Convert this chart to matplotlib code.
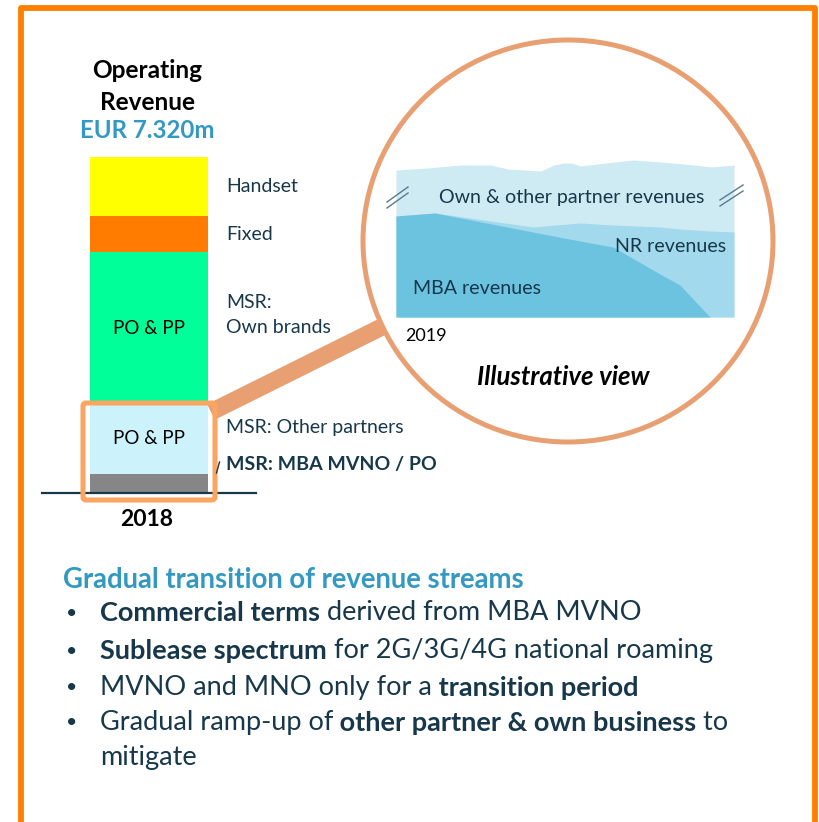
import numpy as np
import matplotlib.pyplot as plt
from matplotlib.patches import Ellipse, FancyBboxPatch

plt.rcParams['font.family'] = ['Lato', 'DejaVu Sans']

W, H = 819, 822
DARK = '#17384a'
TEAL = '#3399c2'
ORANGE = '#ff7f00'
SALMON = '#e8a072'

# 2018 operating revenue split (EUR m)
segments = ['MSR: MBA MVNO / PO', 'MSR: Other partners', 'MSR: Own brands', 'Fixed', 'Handset']
values = [414, 1525, 3311, 784, 1286]
seg_colors = ['#868686', '#ccf2fb', '#00ff99', '#ff7c00', '#ffff00']
seg_inner = ['', 'PO & PP', 'PO & PP', '', '']

# illustrative 2019 view (stacked area, arbitrary units)
mba_x = [0, 11.5, 40.5, 54.4, 64.2, 78.1, 84.0, 92.9, 100]
mba_y = [101, 104, 85, 76, 70, 43, 32, 0, 0]
nr_x = [0, 11.5, 40.5, 54.4, 64.2, 78.1, 84.0, 92.9, 100]
nr_top = [101, 104, 90, 94, 92, 90, 88, 86, 85]
own_x = [0, 9.2, 19.2, 28.1, 33.1, 42.9, 46.7, 49.7, 51.8, 54.7, 64.5, 70.4, 78.4, 88.2, 93.2, 100]
own_top = [147, 149, 152, 152, 148, 146, 152, 154, 154, 151, 155, 157, 155, 152, 150, 152]

bullets = [
    [("Commercial terms", True), (" derived from MBA MVNO", False)],
    [("Sublease spectrum", True), (" for 2G/3G/4G national roaming", False)],
    [("MVNO and MNO only for a", False), (" transition period", True)],
    [("Gradual ramp-up of", False), (" other partner & own business", True), (" to", False)],
]


def px_axes(x0, y0, x1, y1, z):
    a = fig.add_axes([x0 / W, 1 - y1 / H, (x1 - x0) / W, (y1 - y0) / H], zorder=z)
    a.set_facecolor('none')
    a.axis('off')
    return a


fig = plt.figure(figsize=(W / 100, H / 100), dpi=100)
bg = px_axes(0, 0, W, H, 0)
bg.set_xlim(0, W)
bg.set_ylim(H, 0)
fg = px_axes(0, 0, W, H, 10)
fg.set_xlim(0, W)
fg.set_ylim(H, 0)

# frame
bg.plot([21, 21, 814.5, 814.5], [H + 5, 8.5, 8.5, H + 5], color=ORANGE, lw=4.2,
        solid_joinstyle='round')

# magnifier handle + lens
bg.plot([211, 420], [412, 308], color=SALMON, lw=12.5, solid_capstyle='butt', zorder=1)
bg.add_patch(Ellipse((568, 241), 410, 402, facecolor='white', edgecolor=SALMON,
                     lw=3.6, zorder=2))

# stacked bar
ax = px_axes(42, 157, 256, 493, 3)
ax.set_xlim(-1, 1)
ax.set_ylim(0, sum(values))
bottom = 0
for v, c, t in zip(values, seg_colors, seg_inner):
    ax.bar(0, v, bottom=bottom, width=1.103, color=c, linewidth=0)
    if t:
        ax.text(0, bottom + v / 2, t, ha='center', va='center', fontsize=13.5, color='black')
    bottom += v
ax.axhline(0, color=DARK, lw=1.6, clip_on=False)

fg.text(147, 70, 'Operating', ha='center', va='center', fontsize=17.6, fontweight='bold', color='black')
fg.text(147, 102, 'Revenue', ha='center', va='center', fontsize=17.6, fontweight='bold', color='black')
fg.text(147, 131, 'EUR 7.320m', ha='center', va='center', fontsize=17.3, fontweight='bold', color=TEAL)
fg.text(147, 519, '2018', ha='center', va='center', fontsize=16.5, fontweight='bold', color='black')

lab = dict(ha='left', va='center', fontsize=14, color=DARK)
fg.text(226, 187, 'Handset', **lab)
fg.text(226, 234, 'Fixed', **lab)
fg.text(226, 302, 'MSR:', **lab)
fg.text(226, 327, 'Own brands', **lab)
fg.text(226, 427, 'MSR: Other partners', **lab)
fg.text(226, 464, 'MSR: MBA MVNO / PO', fontweight='bold', **lab)
fg.plot([216.5, 219.5], [473, 462], color=DARK, lw=1)

fg.add_patch(FancyBboxPatch((83, 403), 132, 97, boxstyle='round,pad=0,rounding_size=3',
                            facecolor='none', edgecolor='#fba560', lw=3.6))

# illustrative area chart
ac = px_axes(396, 155, 734, 317, 4)
ac.set_xlim(0, 100)
ac.set_ylim(0, 162)
ac.fill_between(own_x, own_top, 0, color='#ceeaf3', lw=0)
ac.fill_between(nr_x, nr_top, 0, color='#a3d9ec', lw=0)
ac.fill_between(mba_x, mba_y, 0, color='#6cc3e0', lw=0)

for x0, y0, x1, y1 in [(387, 202, 408, 187), (720, 200, 743, 185)]:
    for d in (0, 6):
        fg.plot([x0, x1], [y0 + d, y1 + d], color='#5a7a8e', lw=1)

fg.text(572, 197, 'Own & other partner revenues', ha='center', va='center', fontsize=14.1, color=DARK)
fg.text(615, 246, 'NR revenues', ha='left', va='center', fontsize=14.1, color=DARK)
fg.text(413, 288, 'MBA revenues', ha='left', va='center', fontsize=14.1, color=DARK)
fg.text(405, 336, '2019', ha='left', va='center', fontsize=13, color='black')
fg.text(563, 377, 'Illustrative view', ha='center', va='center', fontsize=18.5,
        fontweight='bold', fontstyle='italic', color='black')

# bottom text block
fg.text(63, 580, 'Gradual transition of revenue streams', ha='left', va='center',
        fontsize=19.8, fontweight='bold', color=TEAL)
ys = [613, 651, 687, 722]
for y, parts in zip(ys, bullets):
    fg.text(66, y, '•', ha='left', va='center', fontsize=14, color=DARK)
    prev = None
    for s, b in parts:
        w = 'bold' if b else 'normal'
        if prev is None:
            prev = fg.text(100, y, s, ha='left', va='center', fontsize=19.5, fontweight=w, color=DARK)
        else:
            prev = fg.annotate(s, xy=(1, 0), xycoords=prev, ha='left', va='bottom',
                               fontsize=19.5, fontweight=w, color=DARK)
fg.text(100, 757, 'mitigate', ha='left', va='center', fontsize=19.5, color=DARK)

fig.savefig('out.png', dpi=100)
